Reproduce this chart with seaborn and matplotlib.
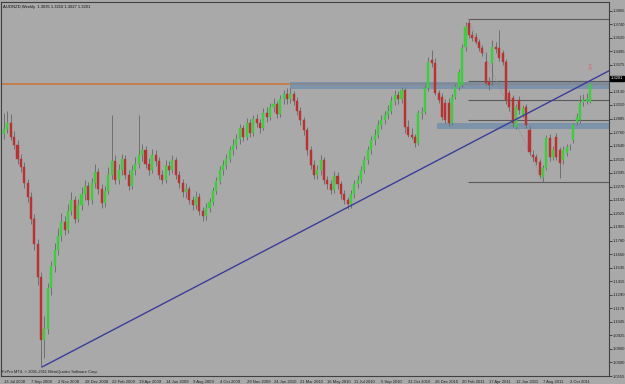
import matplotlib
matplotlib.use("Agg")
import matplotlib.pyplot as plt
import seaborn as sns
import numpy as np
import pandas as pd

title_text = "AUDNZD,Weekly  1.3035 1.3210 1.3027 1.3201"
copyright_text = "FxPro MT4, \u00a9 2001-2011 MetaQuotes Software Corp."

opens = [1.2750, 1.2790, 1.2850, 1.2720, 1.2650, 1.2520, 1.2450, 1.2300, 1.2180, 1.1980,
         1.1750, 1.1450, 1.0880, 1.0980, 1.1350, 1.1550, 1.1700, 1.1820, 1.1950, 1.1880,
         1.2050, 1.2150, 1.1980, 1.2100, 1.2200, 1.2280, 1.2150, 1.2300, 1.2400, 1.2250,
         1.2120, 1.2230, 1.2380, 1.2500, 1.2330, 1.2420, 1.2520, 1.2380, 1.2280, 1.2420,
         1.2480, 1.2560, 1.2600, 1.2480, 1.2420, 1.2560, 1.2500, 1.2380, 1.2330, 1.2460,
         1.2420, 1.2510, 1.2380, 1.2300, 1.2220, 1.2250, 1.2150, 1.2100, 1.2180, 1.2050,
         1.2000, 1.2080, 1.2130, 1.2230, 1.2320, 1.2420, 1.2470, 1.2520, 1.2600, 1.2650,
         1.2700, 1.2800, 1.2720, 1.2850, 1.2760, 1.2880, 1.2850, 1.2800, 1.2940, 1.2900,
         1.2990, 1.3020, 1.2930, 1.3060, 1.3110, 1.3060, 1.3110, 1.3050, 1.2960, 1.2870,
         1.2780, 1.2600, 1.2470, 1.2380, 1.2420, 1.2510, 1.2330, 1.2290, 1.2240, 1.2370,
         1.2290, 1.2200, 1.2150, 1.2110, 1.2200, 1.2290, 1.2330, 1.2420, 1.2510, 1.2600,
         1.2690, 1.2740, 1.2830, 1.2870, 1.2920, 1.2960, 1.3050, 1.3100, 1.3060, 1.3147,
         1.2811, 1.2739, 1.2721, 1.2666, 1.2938, 1.2950, 1.3165, 1.3418, 1.3390, 1.3119,
         1.3083, 1.3029, 1.3029, 1.2848, 1.3083, 1.3174, 1.3190, 1.3536, 1.3754, 1.3645,
         1.3627, 1.3582, 1.3527, 1.3400, 1.3218, 1.3391, 1.3536, 1.3527, 1.3482, 1.3400,
         1.3119, 1.3074, 1.2811, 1.3056, 1.2920, 1.2993, 1.2784, 1.2558, 1.2540, 1.2494,
         1.2359, 1.2440, 1.2712, 1.2540, 1.2720, 1.2603, 1.2510, 1.2575, 1.2625, 1.2693,
         1.2856, 1.2875, 1.3040, 1.3050, 1.3035]
highs = [1.2935, 1.2960, 1.2930, 1.2770, 1.2690, 1.2570, 1.2490, 1.2340, 1.2220, 1.2020,
         1.1800, 1.1500, 1.1100, 1.1400, 1.1600, 1.1760, 1.1900, 1.2030, 1.2000, 1.2110,
         1.2220, 1.2190, 1.2160, 1.2270, 1.2330, 1.2310, 1.2350, 1.2480, 1.2440, 1.2290,
         1.2280, 1.2450, 1.2920, 1.2560, 1.2480, 1.2570, 1.2560, 1.2420, 1.2470, 1.2540,
         1.2920, 1.2660, 1.2640, 1.2530, 1.2610, 1.2600, 1.2540, 1.2420, 1.2510, 1.2500,
         1.2560, 1.2540, 1.2410, 1.2340, 1.2300, 1.2280, 1.2190, 1.2230, 1.2210, 1.2090,
         1.2120, 1.2170, 1.2270, 1.2360, 1.2460, 1.2510, 1.2570, 1.2640, 1.2700, 1.2750,
         1.2840, 1.2830, 1.2890, 1.2880, 1.2920, 1.2930, 1.2880, 1.2980, 1.2990, 1.3030,
         1.3070, 1.3050, 1.3100, 1.3150, 1.3165, 1.3160, 1.3140, 1.3080, 1.2990, 1.2900,
         1.2810, 1.2640, 1.2510, 1.2470, 1.2560, 1.2540, 1.2370, 1.2330, 1.2410, 1.2400,
         1.2320, 1.2240, 1.2180, 1.2240, 1.2330, 1.2380, 1.2460, 1.2550, 1.2640, 1.2730,
         1.2790, 1.2870, 1.2920, 1.2960, 1.3010, 1.3090, 1.3150, 1.3140, 1.3170, 1.3165,
         1.2870, 1.2800, 1.2750, 1.2965, 1.2990, 1.3190, 1.3446, 1.3509, 1.3440, 1.3150,
         1.3120, 1.3060, 1.3070, 1.3110, 1.3200, 1.3340, 1.3560, 1.3763, 1.3790, 1.3680,
         1.3660, 1.3610, 1.3550, 1.3490, 1.3260, 1.3600, 1.3580, 1.3690, 1.3510, 1.3430,
         1.3150, 1.3100, 1.3020, 1.3090, 1.3010, 1.3020, 1.2820, 1.2600, 1.2570, 1.2520,
         1.2470, 1.2740, 1.2750, 1.2640, 1.2760, 1.2630, 1.2640, 1.2660, 1.2660, 1.2850,
         1.2940, 1.3100, 1.3110, 1.3120, 1.3210]
lows = [1.2700, 1.2760, 1.2690, 1.2610, 1.2480, 1.2400, 1.2260, 1.2130, 1.1930, 1.1700,
        1.1380, 1.0637, 1.0720, 1.0940, 1.1290, 1.1500, 1.1650, 1.1780, 1.1830, 1.1850,
        1.2010, 1.1940, 1.1950, 1.2060, 1.2150, 1.2100, 1.2110, 1.2260, 1.2200, 1.2080,
        1.2090, 1.2200, 1.2340, 1.2290, 1.2290, 1.2380, 1.2340, 1.2240, 1.2250, 1.2380,
        1.2440, 1.2500, 1.2440, 1.2380, 1.2390, 1.2460, 1.2340, 1.2290, 1.2300, 1.2380,
        1.2390, 1.2340, 1.2260, 1.2180, 1.2170, 1.2110, 1.2060, 1.2070, 1.2010, 1.1960,
        1.1970, 1.2040, 1.2100, 1.2200, 1.2290, 1.2380, 1.2430, 1.2490, 1.2560, 1.2610,
        1.2660, 1.2680, 1.2690, 1.2720, 1.2730, 1.2810, 1.2760, 1.2780, 1.2860, 1.2870,
        1.2950, 1.2890, 1.2900, 1.3020, 1.3020, 1.3030, 1.3010, 1.2920, 1.2830, 1.2740,
        1.2560, 1.2430, 1.2340, 1.2340, 1.2380, 1.2290, 1.2250, 1.2200, 1.2210, 1.2250,
        1.2160, 1.2110, 1.2070, 1.2080, 1.2170, 1.2260, 1.2300, 1.2390, 1.2480, 1.2570,
        1.2650, 1.2710, 1.2790, 1.2840, 1.2880, 1.2930, 1.3010, 1.3020, 1.3030, 1.2757,
        1.2720, 1.2700, 1.2630, 1.2650, 1.2880, 1.2930, 1.3140, 1.3350, 1.3100, 1.3030,
        1.2870, 1.2850, 1.2820, 1.2830, 1.3060, 1.3150, 1.3170, 1.3500, 1.3620, 1.3590,
        1.3560, 1.3500, 1.3450, 1.3190, 1.3150, 1.3190, 1.3480, 1.3410, 1.3370, 1.3020,
        1.2960, 1.2810, 1.2790, 1.2930, 1.2900, 1.2800, 1.2560, 1.2500, 1.2470, 1.2350,
        1.2313, 1.2420, 1.2500, 1.2510, 1.2510, 1.2350, 1.2480, 1.2550, 1.2600, 1.2670,
        1.2830, 1.2850, 1.3000, 1.3020, 1.3027]
closes = [1.2790, 1.2850, 1.2720, 1.2650, 1.2520, 1.2450, 1.2300, 1.2180, 1.1980, 1.1750,
          1.1450, 1.0880, 1.0980, 1.1350, 1.1550, 1.1700, 1.1820, 1.1950, 1.1880, 1.2050,
          1.2150, 1.1980, 1.2100, 1.2200, 1.2280, 1.2150, 1.2300, 1.2400, 1.2250, 1.2120,
          1.2230, 1.2380, 1.2500, 1.2330, 1.2420, 1.2520, 1.2380, 1.2280, 1.2420, 1.2480,
          1.2560, 1.2600, 1.2480, 1.2420, 1.2560, 1.2500, 1.2380, 1.2330, 1.2460, 1.2420,
          1.2510, 1.2380, 1.2300, 1.2220, 1.2250, 1.2150, 1.2100, 1.2180, 1.2050, 1.2000,
          1.2080, 1.2130, 1.2230, 1.2320, 1.2420, 1.2470, 1.2520, 1.2600, 1.2650, 1.2700,
          1.2800, 1.2720, 1.2850, 1.2760, 1.2880, 1.2850, 1.2800, 1.2940, 1.2900, 1.2990,
          1.3020, 1.2930, 1.3060, 1.3110, 1.3060, 1.3110, 1.3050, 1.2960, 1.2870, 1.2780,
          1.2600, 1.2470, 1.2380, 1.2420, 1.2510, 1.2330, 1.2290, 1.2240, 1.2370, 1.2290,
          1.2200, 1.2150, 1.2110, 1.2200, 1.2290, 1.2330, 1.2420, 1.2510, 1.2600, 1.2690,
          1.2740, 1.2830, 1.2870, 1.2920, 1.2960, 1.3050, 1.3100, 1.3060, 1.3147, 1.2811,
          1.2739, 1.2721, 1.2666, 1.2938, 1.2950, 1.3165, 1.3400, 1.3390, 1.3119, 1.3056,
          1.2902, 1.2875, 1.2848, 1.3083, 1.3174, 1.3310, 1.3527, 1.3717, 1.3645, 1.3618,
          1.3582, 1.3527, 1.3482, 1.3207, 1.3190, 1.3536, 1.3518, 1.3437, 1.3400, 1.3056,
          1.2993, 1.2848, 1.2993, 1.2965, 1.2985, 1.2830, 1.2585, 1.2540, 1.2494, 1.2377,
          1.2440, 1.2712, 1.2540, 1.2603, 1.2540, 1.2485, 1.2600, 1.2625, 1.2630, 1.2830,
          1.2902, 1.3029, 1.3056, 1.3060, 1.3201]

ytick_values = [1.0555, 1.0680, 1.0800, 1.0925, 1.1045, 1.1170, 1.1290, 1.1415, 1.1535, 1.1660,
                1.1780, 1.1905, 1.2025, 1.2150, 1.2270, 1.2395, 1.2515, 1.2640, 1.2760, 1.2885,
                1.3010, 1.3130, 1.3250, 1.3375, 1.3495, 1.3620, 1.3740, 1.3865]
ytick_hidden = [1.3250]
xtick_labels = ["13 Jul 2008", "7 Sep 2008", "2 Nov 2008", "28 Dec 2008", "22 Feb 2009", "19 Apr 2009",
                "14 Jun 2009", "9 Aug 2009", "4 Oct 2009", "29 Nov 2009", "24 Jan 2010", "21 Mar 2010",
                "16 May 2010", "11 Jul 2010", "5 Sep 2010", "31 Oct 2010", "26 Dec 2010", "20 Feb 2011",
                "17 Apr 2011", "12 Jun 2011", "7 Aug 2011", "2 Oct 2011"]

fib_high = 1.3790
fib_low = 1.2313
fib_ratios = [0.0, 0.382, 0.5, 0.618, 1.0]
fib_start_bar = 137.7
fib_low_bar = 160.0
bid_level = 1.3201
bands = [(1.3156, 1.3219, 84.8), (1.2793, 1.2847, 128.5)]
trend_bars = [11.3, 179.6]
trend_prices = [1.0637, 1.3320]
arrow_price = 1.3345

df = pd.DataFrame({"bar": np.arange(len(closes)), "open": opens, "high": highs,
                   "low": lows, "close": closes})

sns.set_style("white")
plt.rcParams["font.family"] = ["Liberation Sans", "DejaVu Sans"]

bg = "#A9A9A9"
fig = plt.figure(figsize=(6.25, 3.84), dpi=100, facecolor=bg)
ax = fig.add_axes([1 / 625, 1 - 376 / 384, 608 / 625, 374 / 384])
ax.set_facecolor(bg)

ax.axhline(bid_level, color="#C8783C", lw=1.2, zorder=1)

for lo, hi, b0 in bands:
    ax.fill_between([b0, 185], lo, hi, color="#6E8CAA", alpha=0.75, lw=0, zorder=2)

for r in fib_ratios:
    lvl = fib_high - r * (fib_high - fib_low)
    ax.hlines(lvl, fib_start_bar, 185, color="#5A5A5A", lw=0.8, zorder=2)
ax.plot([fib_start_bar, fib_low_bar], [fib_high, fib_low], color="#8A8A8A", lw=0.6, ls=":", zorder=2)

up = df["close"] >= df["open"]
ax.vlines(df["bar"], df["low"], df["high"], color="#707070", lw=0.7, zorder=3)
body_lo = df[["open", "close"]].min(axis=1)
body_h = (df["close"] - df["open"]).abs().clip(lower=0.0004)
ax.bar(df["bar"][up], body_h[up], bottom=body_lo[up], width=0.62, color="#3FCC3F",
       edgecolor="#3FCC3F", lw=0.3, zorder=4)
ax.bar(df["bar"][~up], body_h[~up], bottom=body_lo[~up], width=0.62, color="#B83232",
       edgecolor="#B83232", lw=0.3, zorder=4)

sns.lineplot(x=trend_bars, y=trend_prices, ax=ax, color="#3C3C9C", lw=1.0, zorder=5)

ax.text(len(closes) - 1, arrow_price, "\u21e9", color="#E06060", fontsize=5.5, ha="center", va="center",
        zorder=6, family="DejaVu Sans")

ax.set_xlim(-0.9, 179.6)
ax.set_ylim(1.0555, 1.3943)

ax.yaxis.tick_right()
ax.set_yticks(ytick_values)
ax.set_yticklabels(["" if v in ytick_hidden else f"{v:.4f}" for v in ytick_values],
                   fontsize=3.0, color="#202020")
ax.tick_params(axis="y", length=2, width=0.6, color="#303030", pad=1.0)
xt = [8 * k for k in range(len(xtick_labels))]
ax.set_xticks(xt)
ax.set_xticklabels(xtick_labels, fontsize=3.0, color="#202020", ha="left")
ax.tick_params(axis="x", length=2, width=0.6, color="#303030", pad=1.0)

for s in ax.spines.values():
    s.set_color("#404040")
    s.set_linewidth(0.8)

ax.text(0.003, 0.993, title_text, transform=ax.transAxes, fontsize=3.0, va="top", ha="left", color="#101010")
ax.text(0.002, 0.005, copyright_text, transform=ax.transAxes, fontsize=2.9, va="bottom", ha="left", color="#202020")

ax.text(1.003, bid_level + 0.0050, f"{bid_level:.4f}", transform=ax.get_yaxis_transform(), fontsize=3.0,
        color="white", va="center", ha="left", zorder=10, clip_on=False,
        bbox=dict(boxstyle="square,pad=0.2", fc="black", ec="black"))

fig.savefig("out.png", dpi=100, facecolor=bg)
